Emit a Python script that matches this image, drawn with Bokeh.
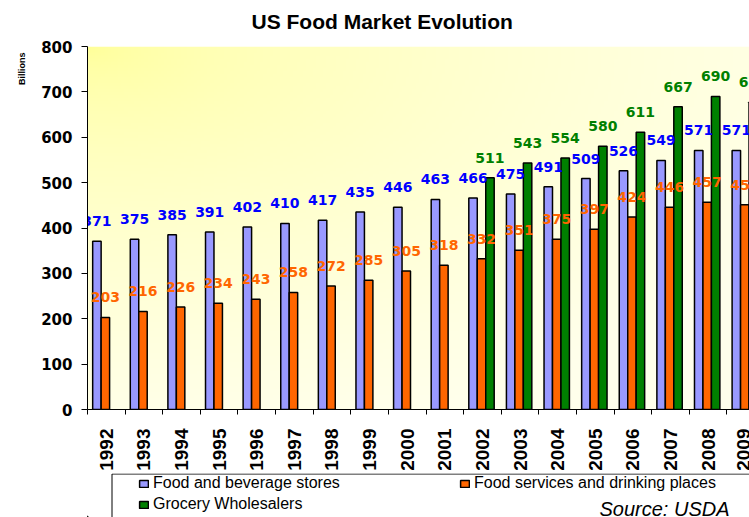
import math
import numpy as np
from bokeh.plotting import figure
from bokeh.layouts import column
from bokeh.models import Range1d, FixedTicker, Legend, LegendItem, ColumnDataSource, Title
from bokeh.core.properties import value
from bokeh.embed import file_html
from bokeh.resources import INLINE

# ---------------- data ----------------
years = ["1992", "1993", "1994", "1995", "1996", "1997", "1998", "1999", "2000",
         "2001", "2002", "2003", "2004", "2005", "2006", "2007", "2008", "2009"]
food_beverage_stores = [371, 375, 385, 391, 402, 410, 417, 435, 446,
                        463, 466, 475, 491, 509, 526, 549, 571, 571]
food_services = [203, 216, 226, 234, 243, 258, 272, 285, 305,
                 318, 332, 351, 375, 397, 424, 446, 457, 451]
grocery_years = ["2002", "2003", "2004", "2005", "2006", "2007", "2008", "2009"]
grocery_wholesalers = [511, 543, 554, 580, 611, 667, 690, 677]
y_ticks = [0, 100, 200, 300, 400, 500, 600, 700, 800]

series_names = ["Food and beverage stores", "Food services and drinking places", "Grocery Wholesalers"]
bar_colors = ["#9999FF", "#FF6600", "#008000"]
label_colors = ["#0000FF", "#FF6600", "#008000"]
title_text = "US Food Market Evolution"
source_text = "Source: USDA"

# ---------------- layout constants ----------------
W = 749
TITLE_H = 36
MAIN_H = 437
LEG_H = 44
FRAME_LEFT = 87
x_visible_end = 17.6   # the picture is cropped inside the 2009 category
y_max = 800
bar_w = 0.225
offsets = [-0.25, -0.025, 0.2]


def strip(h):
    f = figure(width=W, height=h, output_backend="svg", toolbar_location=None,
               x_range=Range1d(FRAME_LEFT, W), y_range=Range1d(0, h),
               min_border_left=FRAME_LEFT, min_border_right=0,
               min_border_top=0, min_border_bottom=0)
    f.axis.visible = False
    f.grid.visible = False
    f.outline_line_color = None
    f.background_fill_color = "white"
    f.border_fill_color = "white"
    return f


# ---------------- title strip ----------------
tstrip = strip(TITLE_H)
tstrip.text(x=[251], y=[15], text=[title_text], text_font=value("Liberation Sans"),
            text_font_style="bold", text_font_size="21px", text_color="black",
            text_align="left", text_baseline="alphabetic")

# ---------------- main chart ----------------
p = figure(width=W, height=MAIN_H, output_backend="svg", toolbar_location=None,
           x_range=Range1d(0, x_visible_end), y_range=Range1d(0, y_max),
           min_border_left=FRAME_LEFT, min_border_right=0, min_border_top=10, min_border_bottom=62)
p.outline_line_color = None
p.background_fill_color = "white"
p.border_fill_color = "white"

# gradient plot background
ny, nx = 120, 200
gx, gy = np.meshgrid(np.linspace(0, 1, nx), np.linspace(0, 1, ny))
u = gx
v = 1 - gy
t = np.clip(np.sqrt(u ** 2 + (v * 1.1) ** 2) / 1.2, 0, 1)
blue = 150 + 85 * t ** 0.55
img = np.empty((ny, nx), dtype=np.uint32)
view = img.view(dtype=np.uint8).reshape((ny, nx, 4))
view[..., 0] = 255
view[..., 1] = 255
view[..., 2] = blue.astype(np.uint8)
view[..., 3] = 255
p.image_rgba(image=[img], x=0, y=0, dw=x_visible_end, dh=y_max)

idx = {y: i for i, y in enumerate(years)}
series = [
    (years, food_beverage_stores),
    (years, food_services),
    (grocery_years, grocery_wholesalers),
]
sources = []
for k, (yrs, vals) in enumerate(series):
    xs = [idx[y] + 0.5 + offsets[k] for y in yrs]
    src = ColumnDataSource(dict(x=xs, top=vals, txt=[str(v) for v in vals]))
    sources.append(src)
    p.vbar(x="x", top="top", bottom=0, width=bar_w, source=src,
           fill_color=bar_colors[k], line_color="black", line_width=1.5)
for k, src in enumerate(sources):
    p.text(x="x", y="top", text="txt", source=src, text_color=label_colors[k],
           text_font=value("DejaVu Sans"), text_font_style="bold", text_font_size="14px",
           text_align="center", text_baseline="alphabetic", y_offset=-20)

# ---------------- axes ----------------
centers = [i + 0.5 for i in range(len(years))]
p.xaxis.ticker = FixedTicker(ticks=centers, minor_ticks=list(range(len(years) + 1)))
p.xaxis.major_label_overrides = {c: y for c, y in zip(centers, years)}
p.xaxis.major_label_orientation = math.pi / 2
p.xaxis.major_tick_out = 0
p.xaxis.major_tick_in = 0
p.xaxis.minor_tick_out = 5
p.xaxis.minor_tick_in = 0
p.xaxis.major_label_standoff = 14
p.xaxis.major_label_text_font = "Liberation Sans"
p.xaxis.major_label_text_font_style = "bold"
p.xaxis.major_label_text_font_size = "19px"
p.xaxis.major_label_text_color = "black"
p.xaxis.axis_line_color = "black"
p.xaxis.minor_tick_line_color = "black"

p.yaxis.ticker = FixedTicker(ticks=y_ticks)
p.yaxis.major_tick_out = 6
p.yaxis.major_tick_in = 0
p.yaxis.minor_tick_line_color = None
p.yaxis.major_label_standoff = 9
p.yaxis.major_label_text_font = "DejaVu Sans"
p.yaxis.major_label_text_font_style = "bold"
p.yaxis.major_label_text_font_size = "15px"
p.yaxis.major_label_text_color = "black"
p.yaxis.axis_line_color = "black"
p.yaxis.major_tick_line_color = "black"

p.xgrid.visible = False
p.ygrid.grid_line_color = "#9a9a9a"
p.ygrid.grid_line_width = 1

# small unit note at the top of the value axis
p.add_layout(Title(text="Billions", align="right", offset=6, standoff=23,
                   text_font="Liberation Sans", text_font_style="bold",
                   text_font_size="9px", text_color="black"), "left")

# ---------------- legend strip ----------------
q = strip(LEG_H)

# legend frame (its right and bottom sides fall outside the picture)
q.quad(left=[111.5], right=[W + 20], top=[LEG_H - 0.5], bottom=[-20],
       fill_color="white", line_color="black", line_width=1)

# off-screen stand-ins that give the legend its swatches
dummies = []
for k in range(3):
    r = q.vbar(x=[-1000], top=[1], width=1, fill_color=bar_colors[k],
               line_color="black", line_width=1.5)
    dummies.append(r)

legend = Legend(items=[LegendItem(label=series_names[k], renderers=[dummies[k]]) for k in range(3)],
                location=(138 - FRAME_LEFT, 3.5), ncols=2, orientation="horizontal",
                border_line_alpha=0, background_fill_alpha=0, padding=0, margin=0,
                spacing=2, glyph_width=11, glyph_height=9, label_standoff=4,
                label_width=304, label_height=19,
                label_text_font="Liberation Sans", label_text_font_size="16px",
                label_text_color="black")
q.add_layout(legend)

q.text(x=[599], y=[9], text=[source_text], text_font=value("Liberation Sans"),
       text_font_style="italic", text_font_size="20px", text_color="black",
       text_align="left", text_baseline="alphabetic")

layout = column(tstrip, p, q, spacing=0)
open("out.html", "w").write(file_html(layout, INLINE))
